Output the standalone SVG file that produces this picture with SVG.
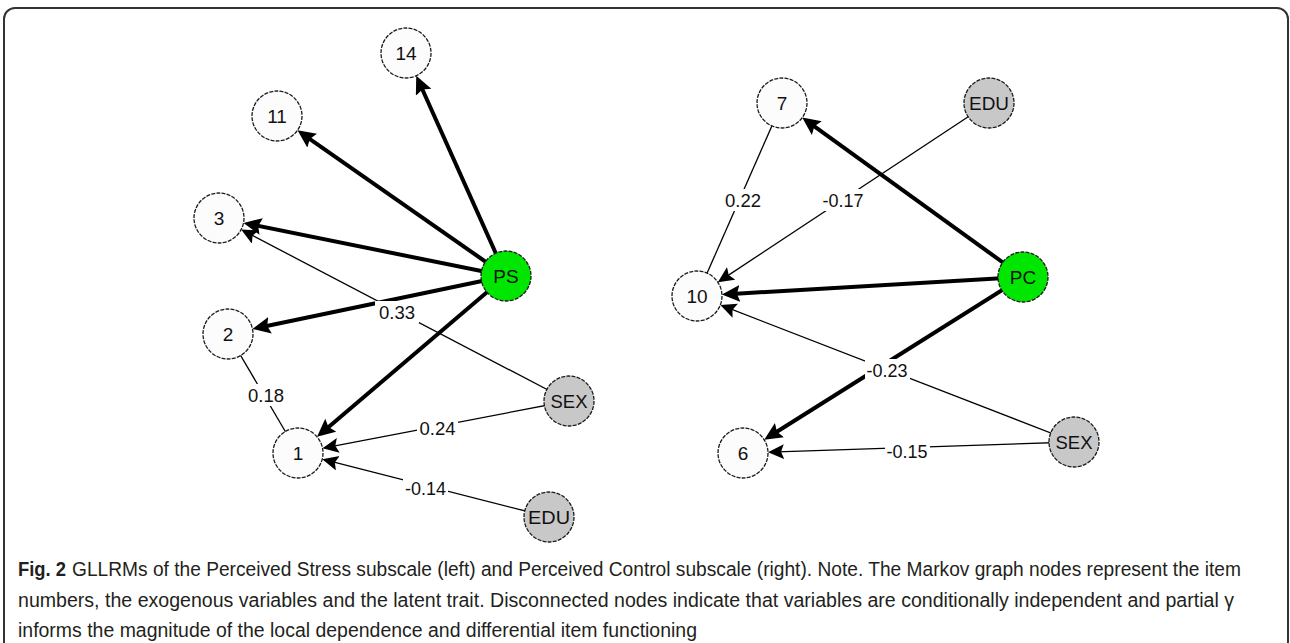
<svg xmlns="http://www.w3.org/2000/svg" width="1290" height="643" viewBox="0 0 1290 643">
  <style>
    .frame { fill: #ffffff; stroke: #333333; stroke-width: 2; }
    .node circle { stroke: #1a1a1a; stroke-width: 1.3; stroke-dasharray: 4 1.2; }
    .item circle { fill: #fcfcfc; }
    .trait circle { fill: #00e600; }
    .exo circle { fill: #c8c8c8; }
    .node text, .lbl text { font-family: "Liberation Sans", Arial, sans-serif; font-size: 19px; fill: #111111; text-anchor: middle; }
    .thick { stroke: #000000; stroke-width: 4; fill: none; marker-end: url(#headThick); }
    .thin { stroke: #000000; stroke-width: 1.3; fill: none; }
    .thin.arrow { marker-end: url(#headThin); }
    .lbl rect { fill: #ffffff; }
    .caption { font-family: "Liberation Sans", Arial, sans-serif; font-size: 20px; fill: #231f20; }
    .caption .b { font-weight: bold; }
  </style>
  <defs>
    <marker id="headThick" markerUnits="userSpaceOnUse" markerWidth="20" markerHeight="18" refX="12" refY="8.5" orient="auto">
      <path d="M0,0 L18,8.5 L0,17 L3,8.5 z" fill="#000000"/>
    </marker>
    <marker id="headThin" markerUnits="userSpaceOnUse" markerWidth="18" markerHeight="16" refX="14" refY="7.5" orient="auto">
      <path d="M0,0 L16,7.5 L0,15 L3,7.5 z" fill="#000000"/>
    </marker>
  </defs>

  <rect class="frame" x="4" y="8" width="1284" height="648" rx="11" ry="11"/>

  <!-- connectors -->
  <g id="connectors">
    <!-- Perceived Stress -->
    <line class="thick" x1="506" y1="276" x2="418.7" y2="81.3"/>
    <line class="thick" x1="506" y1="276" x2="302.4" y2="133.8"/>
    <line class="thick" x1="506" y1="276" x2="249.4" y2="224.1"/>
    <line class="thick" x1="506" y1="276" x2="258.3" y2="327.7"/>
    <line class="thick" x1="506" y1="276" x2="321.6" y2="432.9"/>
    <line class="thin arrow" x1="569" y1="401" x2="242.9" y2="230.5"/>
    <line class="thin arrow" x1="569" y1="401" x2="324.5" y2="447.9"/>
    <line class="thin arrow" x1="549" y1="517" x2="324.2" y2="459.7"/>
    <line class="thin" x1="228" y1="334" x2="298" y2="453"/>
    <!-- Perceived Control -->
    <line class="thick" x1="1023" y1="277" x2="807.1" y2="121.1"/>
    <line class="thick" x1="1023" y1="277" x2="727.9" y2="294.2"/>
    <line class="thick" x1="1023" y1="277" x2="769.3" y2="436.5"/>
    <line class="thin arrow" x1="989" y1="103" x2="719.5" y2="281.1"/>
    <line class="thin arrow" x1="1074" y1="442" x2="722.2" y2="305.7"/>
    <line class="thin arrow" x1="1074" y1="442" x2="770.0" y2="452.1"/>
    <line class="thin" x1="782" y1="103" x2="697" y2="296"/>

    <!-- partial gamma labels -->
    <g class="lbl"><rect x="375" y="301" width="44" height="22"/><text x="397" y="318.5" textLength="36" lengthAdjust="spacingAndGlyphs">0.33</text></g>
    <g class="lbl"><rect x="246" y="384" width="40" height="22"/><text x="266" y="401.5" textLength="36" lengthAdjust="spacingAndGlyphs">0.18</text></g>
    <g class="lbl"><rect x="417" y="417" width="41" height="22"/><text x="437.5" y="434.5" textLength="36" lengthAdjust="spacingAndGlyphs">0.24</text></g>
    <g class="lbl"><rect x="403" y="477" width="45" height="22"/><text x="425.5" y="494.5" textLength="41" lengthAdjust="spacingAndGlyphs">-0.14</text></g>
    <g class="lbl"><rect x="723" y="189" width="40" height="22"/><text x="743" y="206.5" textLength="36" lengthAdjust="spacingAndGlyphs">0.22</text></g>
    <g class="lbl"><rect x="821" y="189" width="45" height="22"/><text x="843" y="206.5" textLength="41" lengthAdjust="spacingAndGlyphs">-0.17</text></g>
    <g class="lbl"><rect x="865" y="359" width="45" height="22"/><text x="887" y="376.5" textLength="41" lengthAdjust="spacingAndGlyphs">-0.23</text></g>
    <g class="lbl"><rect x="885" y="441" width="45" height="22"/><text x="907" y="458" textLength="41" lengthAdjust="spacingAndGlyphs">-0.15</text></g>
  </g>

  <!-- Perceived Stress nodes -->
  <g id="ps-14" class="node item"><circle cx="406" cy="53" r="25"/><text x="406" y="60">14</text></g>
  <g id="ps-11" class="node item"><circle cx="277" cy="116" r="25"/><text x="277" y="123">11</text></g>
  <g id="ps-3" class="node item"><circle cx="219" cy="218" r="25"/><text x="219" y="225">3</text></g>
  <g id="ps-2" class="node item"><circle cx="228" cy="334" r="25"/><text x="228" y="341">2</text></g>
  <g id="ps-1" class="node item"><circle cx="298" cy="453" r="25"/><text x="298" y="460">1</text></g>
  <g id="ps-trait" class="node trait"><circle cx="506" cy="276" r="25"/><text x="506" y="283">PS</text></g>
  <g id="ps-sex" class="node exo"><circle cx="569" cy="401" r="25"/><text x="569" y="408" textLength="37" lengthAdjust="spacingAndGlyphs">SEX</text></g>
  <g id="ps-edu" class="node exo"><circle cx="549" cy="517" r="25"/><text x="549" y="524" textLength="42" lengthAdjust="spacingAndGlyphs">EDU</text></g>

  <!-- Perceived Control nodes -->
  <g id="pc-7" class="node item"><circle cx="782" cy="103" r="25"/><text x="782" y="110">7</text></g>
  <g id="pc-10" class="node item"><circle cx="697" cy="296" r="25"/><text x="697" y="303">10</text></g>
  <g id="pc-6" class="node item"><circle cx="743" cy="453" r="25"/><text x="743" y="460">6</text></g>
  <g id="pc-trait" class="node trait"><circle cx="1023" cy="277" r="25"/><text x="1023" y="284">PC</text></g>
  <g id="pc-edu" class="node exo"><circle cx="989" cy="103" r="25"/><text x="989" y="110" textLength="40" lengthAdjust="spacingAndGlyphs">EDU</text></g>
  <g id="pc-sex" class="node exo"><circle cx="1074" cy="442" r="25"/><text x="1074" y="449" textLength="37" lengthAdjust="spacingAndGlyphs">SEX</text></g>

  <!-- caption -->
  <g class="caption">
    <text class="b" x="18" y="576" textLength="48" lengthAdjust="spacingAndGlyphs">Fig. 2</text>
    <text x="72" y="576" textLength="1169" lengthAdjust="spacingAndGlyphs">GLLRMs of the Perceived Stress subscale (left) and Perceived Control subscale (right). Note. The Markov graph nodes represent the item</text>
    <text x="18" y="607" textLength="1216" lengthAdjust="spacingAndGlyphs">numbers, the exogenous variables and the latent trait. Disconnected nodes indicate that variables are conditionally independent and partial γ</text>
    <text x="18" y="637" textLength="679" lengthAdjust="spacingAndGlyphs">informs the magnitude of the local dependence and differential item functioning</text>
  </g>
</svg>
